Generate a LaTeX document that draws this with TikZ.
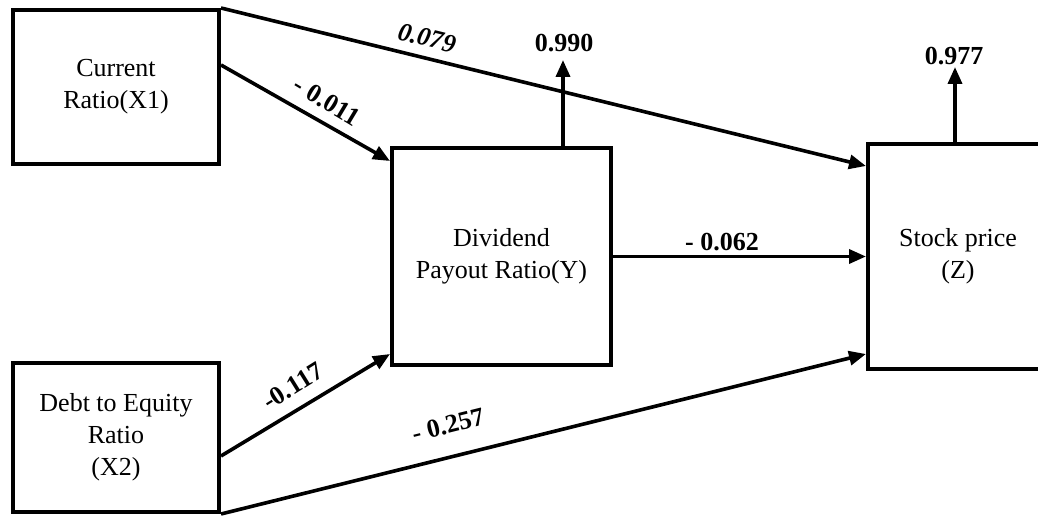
\documentclass[tikz,border=0pt]{standalone}
\usepackage{fontspec}
\setmainfont{Liberation Serif}
\usetikzlibrary{arrows.meta}
\tikzset{
  varbox/.style={draw, line width=4bp, rectangle, inner sep=0pt, align=center,
    font=\fontsize{26bp}{32bp}\selectfont},
  arr/.style={line width=3.6bp, -{Triangle[length=17bp,width=14bp]}},
  coef/.style={font=\fontsize{26bp}{30bp}\selectfont\bfseries, inner sep=0pt},
  coefit/.style={coef, font=\fontsize{26bp}{30bp}\selectfont\bfseries\itshape}
}
\begin{document}
\begin{tikzpicture}[x=1bp,y=-1bp]
\useasboundingbox (0,0) rectangle (1038,516);
\clip (0,0) rectangle (1038,516);

% variables
\node[varbox, minimum width=206bp, minimum height=154bp] (x1) at (116,87) {Current\\Ratio(X1)};
\node[varbox, minimum width=206bp, minimum height=149bp] (x2) at (116,437.5) {Debt to Equity\\Ratio\\(X2)};
\node[varbox, minimum width=219bp, minimum height=217bp] (y) at (501.5,256.5) {Dividend\\Payout Ratio(Y)};
\node[varbox, minimum width=180bp, minimum height=225bp] (z) at (958,256.5) {Stock price\\(Z)};

% path coefficients
\draw[arr] (x1.north east) -- ([yshift=-24bp]z.north west);
\draw[arr] ([yshift=-57bp]x1.north east) -- ([yshift=-15bp]y.north west);
\draw[arr] ([yshift=-95bp]x2.north east) -- ([yshift=13bp]y.south west);
\draw[arr] (x2.south east) -- ([yshift=17bp]z.south west);
\draw[arr] (y.east) -- (y.east -| z.west);

% R-squared arrows
\coordinate (ytip) at (563,60);
\coordinate (ztip) at (955,67);
\draw[arr] (ytip |- y.north) -- (ytip);
\draw[arr] (ztip |- z.north) -- (ztip);

% labels
\node[coefit, rotate=-13.7] (l079) at (427,38) {0.079};
\node[coef, rotate=-31] (l011) at (327,101) {- 0.011};
\node[coef, rotate=32] (l117) at (293,386) {-0.117};
\node[coef, rotate=14] (l257) at (448,425) {- 0.257};
\node[coef] (l062) at (722,242) {- 0.062};
\node[coef] (l990) at (564,43) {0.990};
\node[coef] (l977) at (954,56) {0.977};
\end{tikzpicture}
\end{document}
